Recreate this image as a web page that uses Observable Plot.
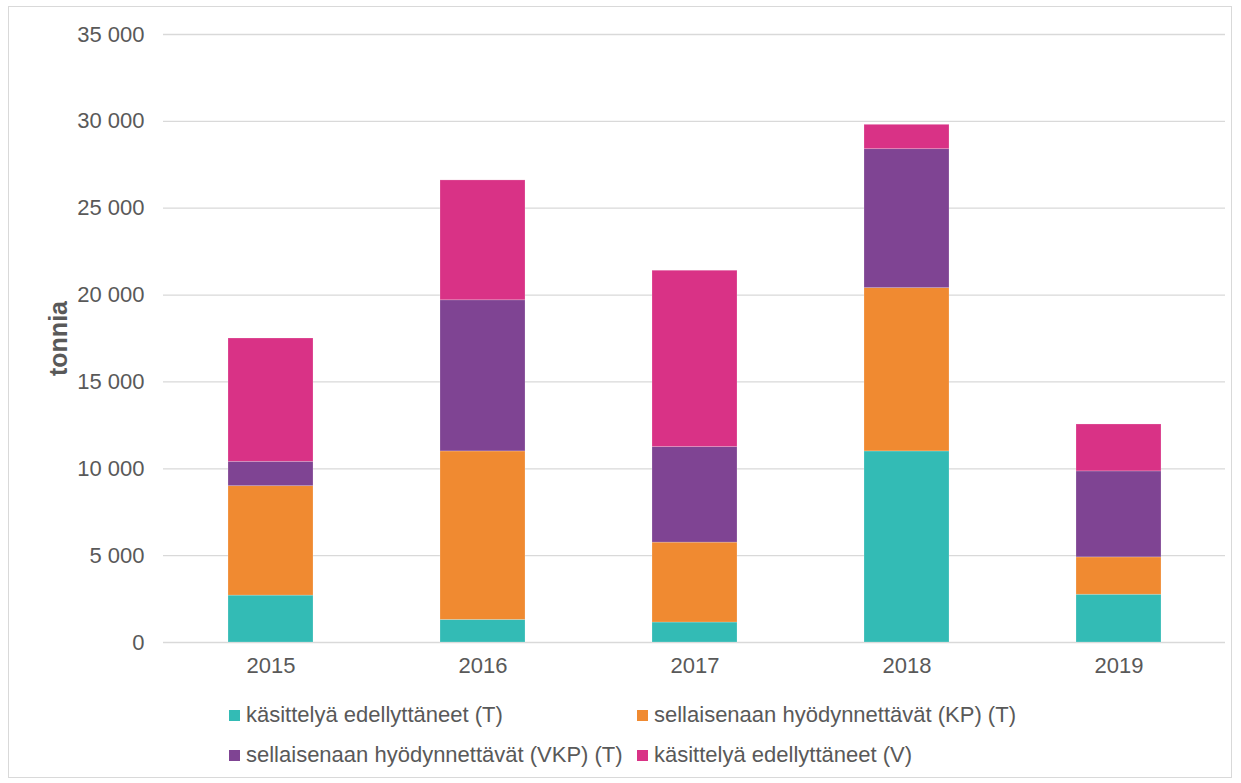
<!DOCTYPE html>
<html><head><meta charset="utf-8">
<script src="https://cdn.jsdelivr.net/npm/d3@7"></script>
<script src="https://cdn.jsdelivr.net/npm/@observablehq/plot@0.6"></script>
<style>
body{margin:0;background:#fff;font-family:"Liberation Sans",Arial,sans-serif;}
#frame{position:absolute;left:8px;top:6px;width:1224px;height:772px;border:1px solid #d9d9d9;box-sizing:border-box;}
#chart{position:absolute;left:0;top:0;}
#legend{position:absolute;left:229px;top:701px;display:grid;grid-template-columns:408px auto;row-gap:12px;font-size:22px;color:#595959;}
.item{display:flex;align-items:center;height:28px;}
.sw{width:11px;height:11px;margin-right:6px;display:inline-block;}
</style></head><body>
<div id="frame"></div>
<div id="chart"></div>
<div id="legend"></div>
<script>
const years = ["2015","2016","2017","2018","2019"];
const series = ["käsittelyä edellyttäneet (T)","sellaisenaan hyödynnettävät (KP) (T)","sellaisenaan hyödynnettävät (VKP) (T)","käsittelyä edellyttäneet (V)"];
const colors = ["#33bbb5","#f08a31","#7f4493","#d93286"];
const kasittelyT = [2700, 1300, 1150, 11000, 2750];
const kpT = [6300, 9700, 4600, 9400, 2150];
const vkpT = [1400, 8700, 5500, 8000, 4950];
const kasittelyV = [7100, 6900, 10150, 1400, 2700];
const yTicks = [0,5000,10000,15000,20000,25000,30000,35000];

const seriesValues = [kasittelyT, kpT, vkpT, kasittelyV];
const data = [];
series.forEach((s,i)=>years.forEach((y,j)=>data.push({year:y, series:s, value:seriesValues[i][j]})));

const fmt = d3.formatLocale({decimal:",",thousands:"\u00a0",grouping:[3],currency:["","€"]}).format(",d");

const plot = Plot.plot({
  width:1241, height:690,
  marginLeft:163, marginRight:16, marginTop:34, marginBottom:48,
  style:{fontFamily:"'Liberation Sans',Arial,sans-serif", fontSize:"22px", color:"#595959", background:"transparent"},
  x:{domain:years, paddingInner:0.6, paddingOuter:0.3, label:null},
  y:{domain:[0,35000], label:null},
  color:{domain:series, range:colors},
  marks:[
    Plot.gridY(yTicks,{stroke:"#d9d9d9", strokeOpacity:1, strokeWidth:1.3}),
    Plot.barY(data,{x:"year", y:"value", fill:"series", z:"series", stroke:"#ffffff", strokeOpacity:0.25, strokeWidth:0.8}),
    Plot.axisY(yTicks,{tickSize:0, tickPadding:19, tickFormat:fmt, label:null, fill:"#595959", fontSize:22}),
    Plot.axisX({tickSize:0, tickPadding:15, label:null, fill:"#595959", fontSize:22}),
    Plot.text(["tonnia"],{frameAnchor:"left", textAnchor:"middle", dx:-105, rotate:-90, fontWeight:"bold", fontSize:25, fill:"#595959"})
  ]
});
document.getElementById("chart").appendChild(plot);

const lg = document.getElementById("legend");
[0,1,2,3].forEach(i=>{
  const d = document.createElement("div"); d.className="item";
  d.innerHTML = `<span class="sw" style="background:${colors[i]}"></span><span>${series[i]}</span>`;
  lg.appendChild(d);
});
</script>
</body></html>
